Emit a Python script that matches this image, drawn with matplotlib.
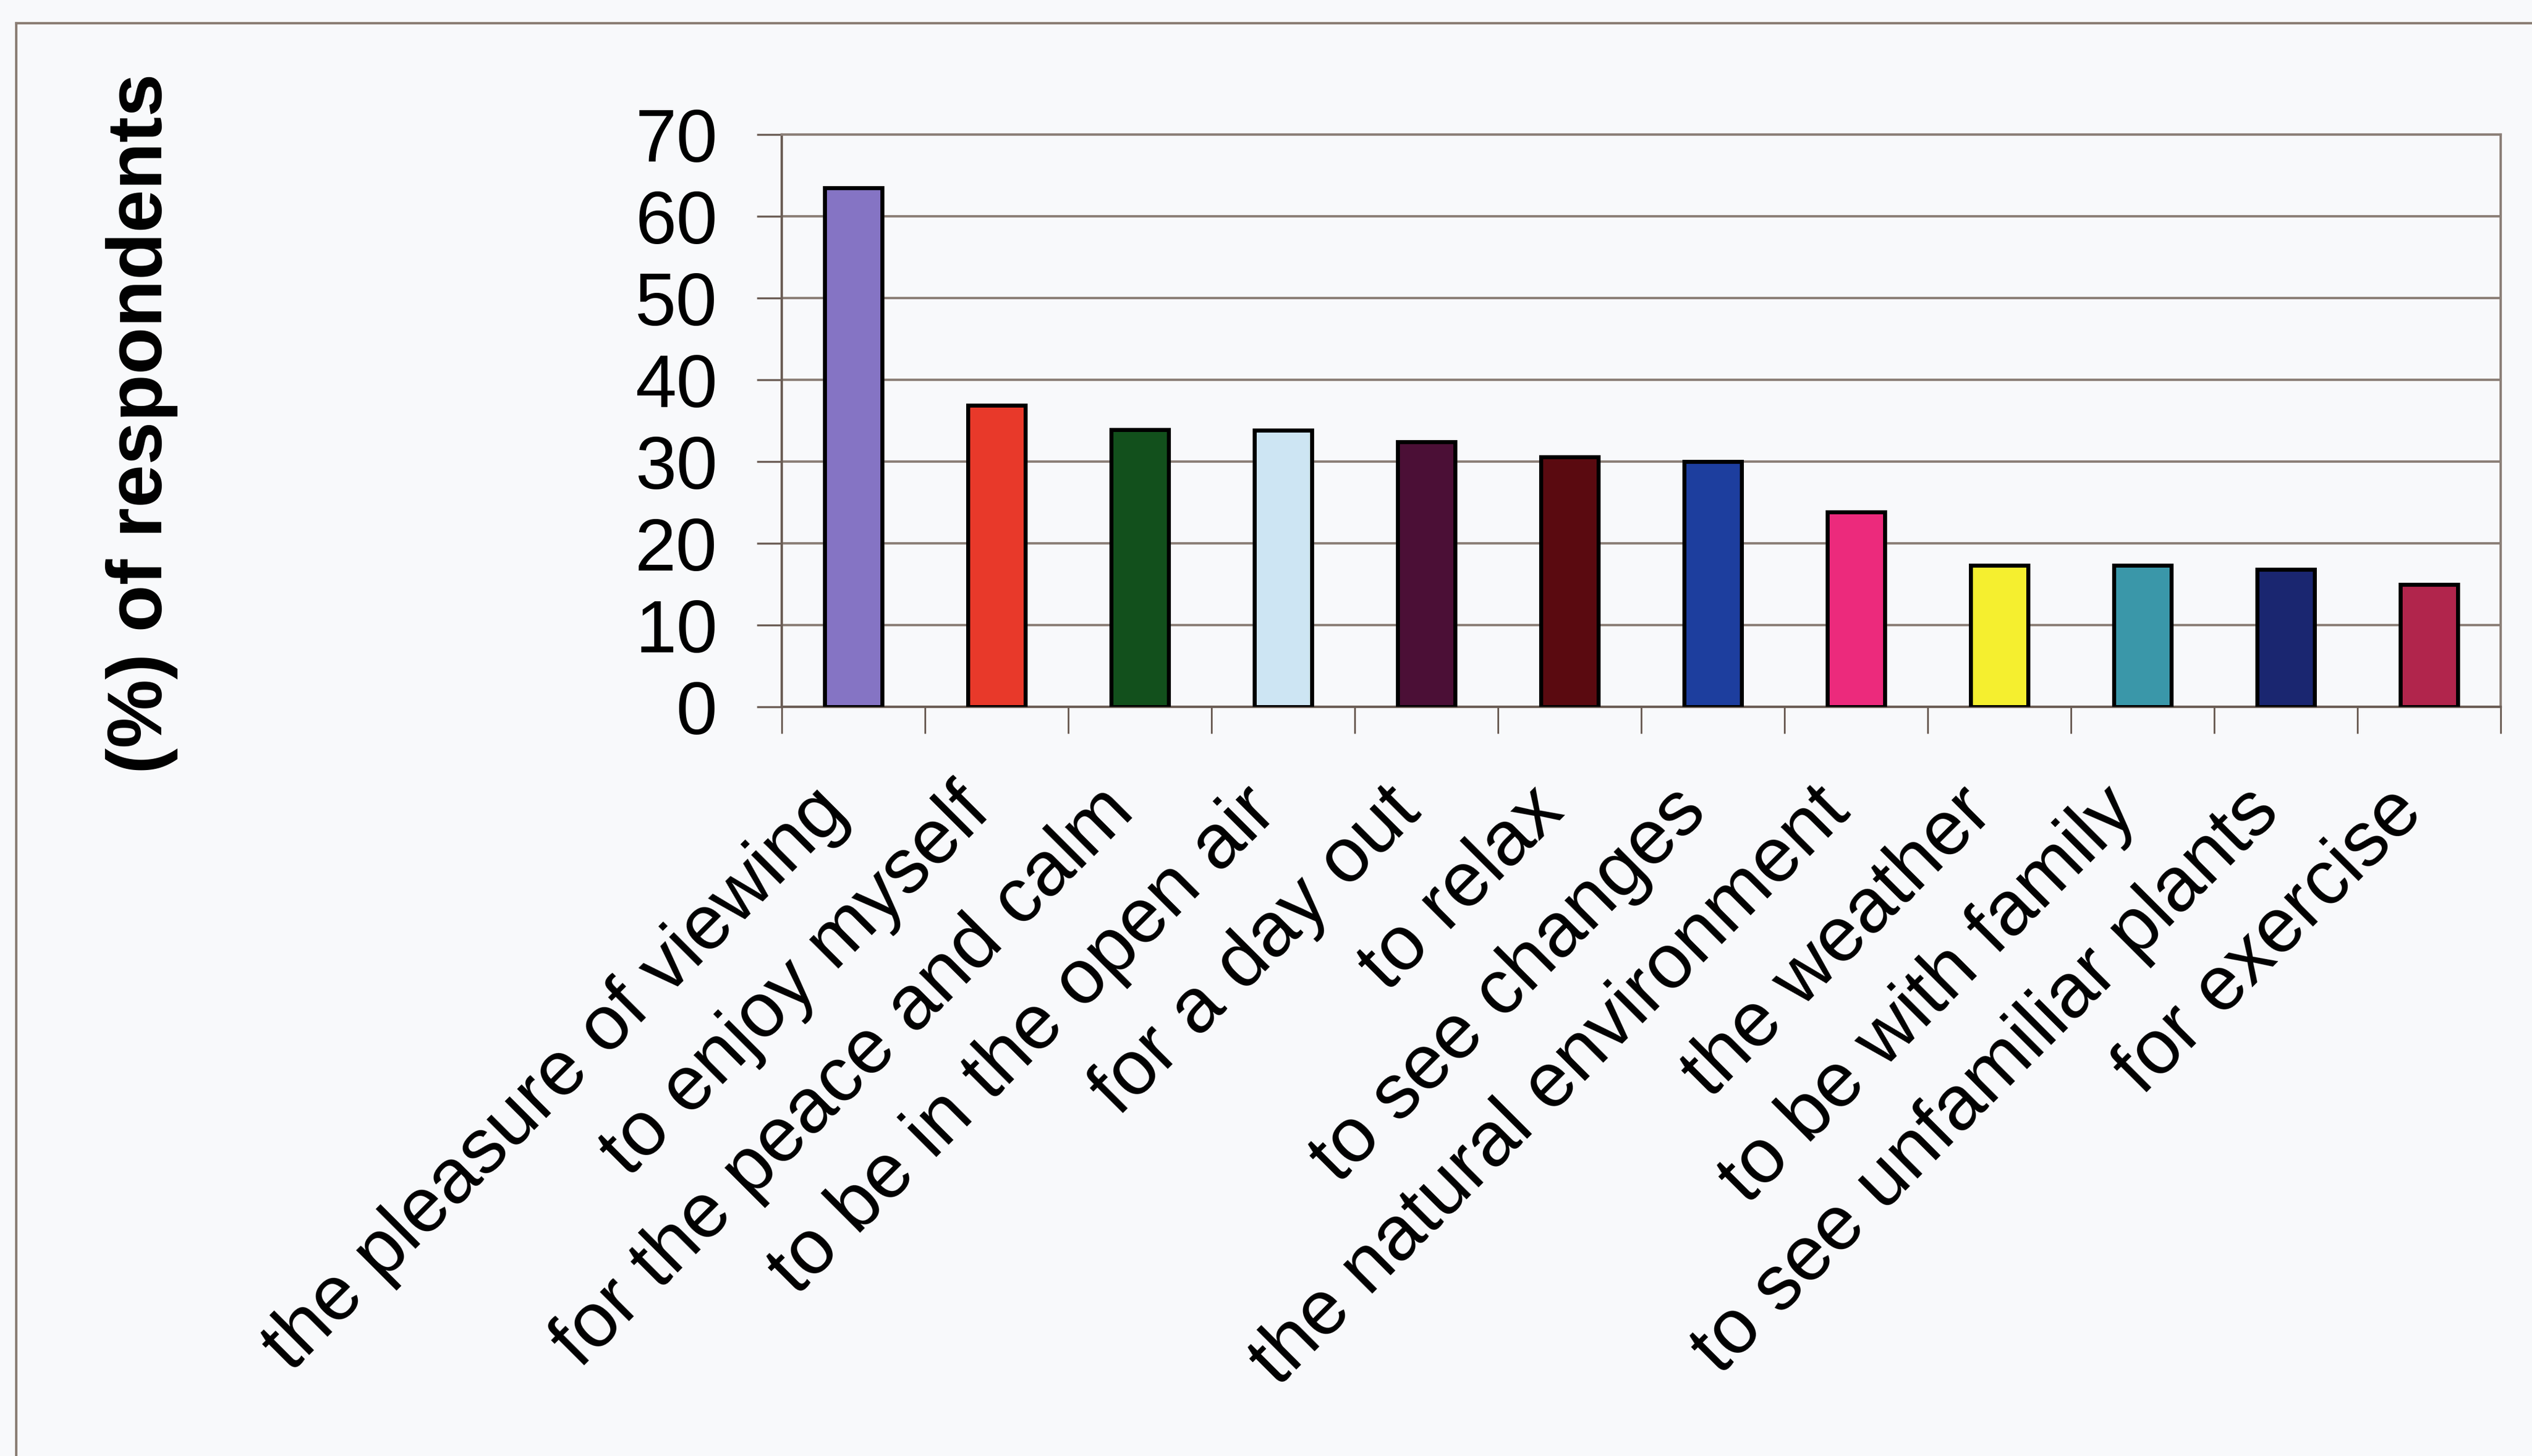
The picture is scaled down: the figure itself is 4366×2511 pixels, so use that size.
"""Bar chart of reasons for visiting, share of respondents."""
import matplotlib.pyplot as plt
from matplotlib.lines import Line2D
from matplotlib.transforms import ScaledTranslation
import numpy as np

reasons = [
    "the pleasure of viewing", "to enjoy myself", "for the peace and calm",
    "to be in the open air", "for a day out", "to relax", "to see changes",
    "the natural environment", "the weather", "to be with family",
    "to see unfamiliar plants", "for exercise",
]
pct = [63.5, 36.9, 33.9, 33.8, 32.4, 30.6, 30.0, 23.8, 17.3, 17.3, 16.8, 15.0]
bar_colors = [
    "#8574c4", "#e8392a", "#12501c", "#cde5f3", "#4b0f36", "#5a0a10",
    "#1d3e9e", "#ec2a7c", "#f5ef2f", "#3a97a9", "#1a2670", "#b1254c",
]
y_ticks = [0, 10, 20, 30, 40, 50, 60, 70]

plt.rcParams["font.family"] = ["Liberation Sans", "DejaVu Sans"]
bg = "#f8f9fb"
grid_c = "#8b7f77"
axis_c = "#6b5d55"

fig = plt.figure(figsize=(43.66, 25.11), dpi=100)
fig.set_facecolor(bg)
ax = fig.add_axes([0.3088, 0.5145, 0.6788, 0.3931])
ax.set_facecolor(bg)

x = np.arange(len(reasons))
ax.bar(x, pct, width=0.4, color=bar_colors, edgecolor="black",
       linewidth=5, zorder=3)

ax.set_xlim(-0.5, len(reasons) - 0.5)
ax.set_ylim(0, 70)
ax.set_yticks(y_ticks)
ax.yaxis.grid(True, color=grid_c, linewidth=3)
ax.set_axisbelow(True)
ax.tick_params(axis="y", length=31, width=2.5, color=axis_c, pad=49,
               labelsize=92)

# category boundaries carry the tick marks, centres carry the labels
ax.set_xticks(x)
ax.set_xticks(np.arange(-0.5, len(reasons)), minor=True)
ax.set_xticklabels(reasons, rotation=45, ha="right", rotation_mode="anchor",
                   fontsize=96)
ax.tick_params(axis="x", which="major", length=0, pad=84)
ax.tick_params(axis="x", which="minor", length=33, width=2.2, color=axis_c)
shift = ScaledTranslation(-0.75, 0, fig.dpi_scale_trans)
for lab in ax.get_xticklabels():
    lab.set_transform(lab.get_transform() + shift)

for side in ("left", "bottom"):
    ax.spines[side].set_color(axis_c)
    ax.spines[side].set_linewidth(3)
for side in ("top", "right"):
    ax.spines[side].set_color(grid_c)
    ax.spines[side].set_linewidth(3)

fig.text(245 / 4366, 1 - 730 / 2511, "(%) of respondents", rotation=90,
         fontsize=96, fontweight="bold", ha="center", va="center")

# outer chart border
fx, fy = 28 / 4366, 1 - 40 / 2511
fig.add_artist(Line2D([fx, 1.0], [fy, fy], color="#8a7d74", linewidth=3))
fig.add_artist(Line2D([fx, fx], [0.0, fy], color="#8a7d74", linewidth=3))

fig.savefig("out.png", dpi=100, facecolor=fig.get_facecolor())
plt.close(fig)
